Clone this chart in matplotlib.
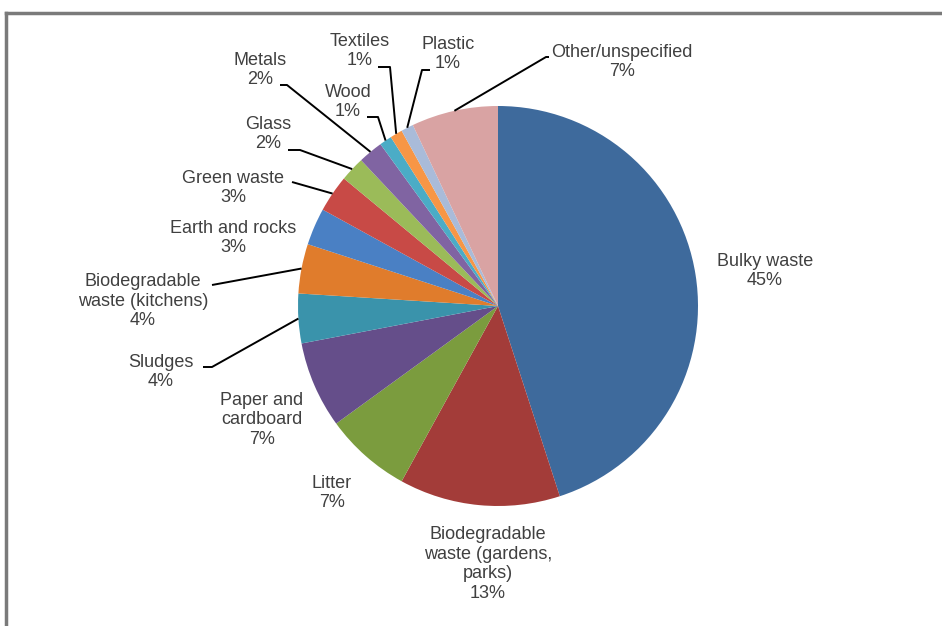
import matplotlib.pyplot as plt
import numpy as np

plt.rcParams['font.family'] = ['Liberation Sans', 'DejaVu Sans']

labels = ['Bulky waste', 'Biodegradable\nwaste (gardens,\nparks)', 'Litter',
          'Paper and\ncardboard', 'Sludges', 'Biodegradable\nwaste (kitchens)',
          'Earth and rocks', 'Green waste', 'Glass', 'Metals', 'Wood',
          'Textiles', 'Plastic', 'Other/unspecified']
values = [45, 13, 7, 7, 4, 4, 3, 3, 2, 2, 1, 1, 1, 7]
colors = ['#3e6a9c', '#a33c39', '#7b9c3e', '#654e8a', '#3a93ab', '#e07c2c',
          '#4a80c4', '#c84a46', '#9bbb59', '#8064a2', '#4bacc6', '#f79646',
          '#a9bbd9', '#d9a3a3']

# pixel layout of the picture: pie centre and radius
CX, CY, R = 498, 306, 200
W, H = 942, 626


def P(px, py):
    return ((px - CX) / R, (CY - py) / R)


# label centres (pixels)
text_pos = [(765, 271), (488, 564), (332, 493), (262, 420), (161, 372),
            (143, 301), (233, 238), (233, 188), (268, 134), (260, 70),
            (348, 102), (360, 51), (448, 54), (622, 62)]
# leader line points near the label (pixels), from label side toward pie
leaders = {4: [(203, 367), (212, 367)],
           5: [(212, 285)],
           7: [(292, 182)],
           8: [(288, 150), (300, 150)],
           9: [(280, 85), (287, 85)],
           10: [(367, 117), (378, 117)],
           11: [(378, 67), (390, 67)],
           12: [(430, 70), (422, 70)],
           13: [(549, 57), (546, 57)]}

fig = plt.figure(figsize=(W / 100, H / 100), dpi=100)
ax = fig.add_axes([0, 0, 1, 1])
ax.pie(values, colors=colors, startangle=90, counterclock=False, radius=1,
       center=(0, 0), wedgeprops=dict(linewidth=0))
ax.set_xlim(-CX / R, (W - CX) / R)
ax.set_ylim((CY - H) / R, CY / R)
ax.set_aspect('equal')
ax.axis('off')

total = sum(values)
cum = np.cumsum([0] + values[:-1])
for i, (lab, v) in enumerate(zip(labels, values)):
    x, y = P(*text_pos[i])
    ax.text(x, y, f'{lab}\n{v}%', ha='center', va='center', fontsize=13,
            color='#404040', linespacing=1.2)
    if i in leaders:
        mid = np.deg2rad(90 - 360 * (cum[i] + v / 2) / total)
        pts = [P(*p) for p in leaders[i]] + [(np.cos(mid), np.sin(mid))]
        xs, ys = zip(*pts)
        ax.plot(xs, ys, color='black', lw=1.4, solid_capstyle='butt')

# outer frame
x0, y0 = P(6, 13)
x1, _ = P(W, 13)
_, y1 = P(6, H)
ax.plot([x0, x1], [y0, y0], color='#7a7a7a', lw=2.5, clip_on=False)
ax.plot([x0, x0], [y0, y1], color='#7a7a7a', lw=2.5, clip_on=False)

fig.savefig('out.png', dpi=100)
